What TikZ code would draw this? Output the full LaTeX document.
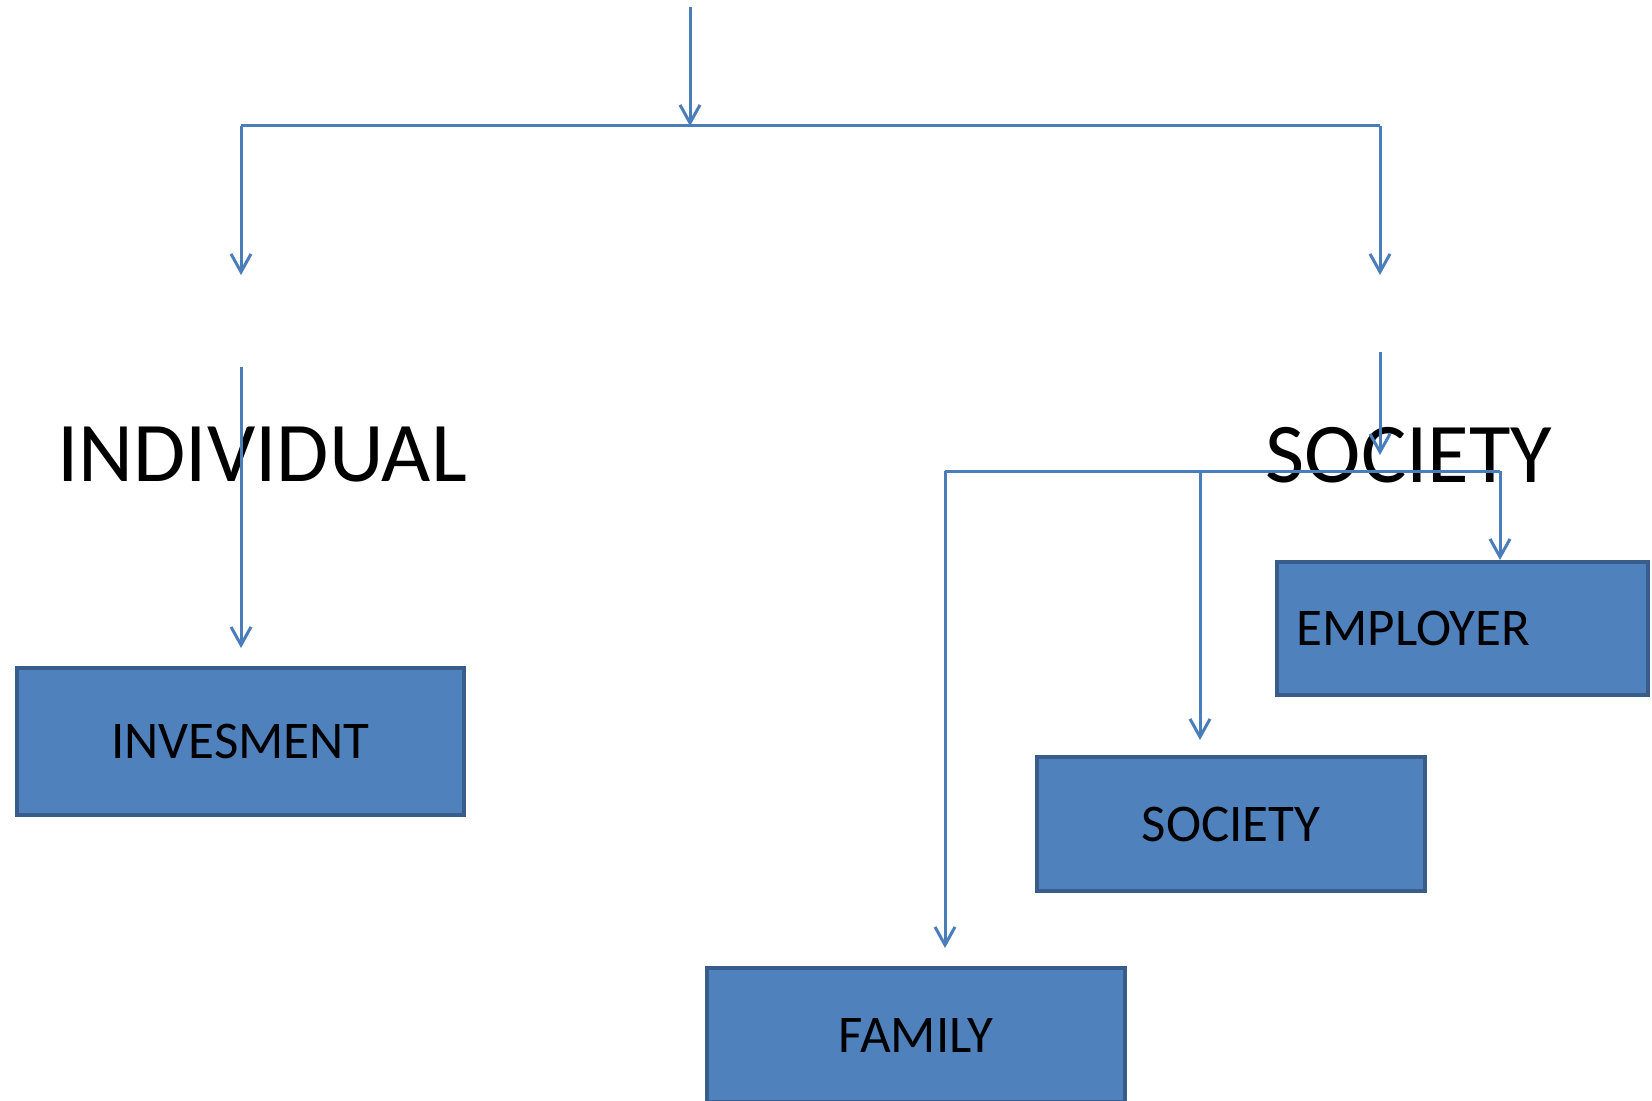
\documentclass[tikz,border=0pt]{standalone}
\usepackage{fontspec}
\setmainfont{Carlito}
\usetikzlibrary{positioning, arrows.meta}
\definecolor{boxfill}{HTML}{4F81BD}
\definecolor{boxline}{HTML}{385D8A}
\definecolor{linkline}{HTML}{4A7EBB}

\begin{document}
\begin{tikzpicture}[x=0.5pt, y=-0.5pt, >={Straight Barb[length=9pt,width=10pt]}]
    \tikzstyle{every node}=[font=\fontsize{26.5pt}{30pt}\selectfont]
    \tikzstyle{bigtext}=[font=\fontsize{42.5pt}{48pt}\selectfont, inner sep=0pt]
    \tikzstyle{boxnode}=[draw=boxline, fill=boxfill, line width=2pt, inner sep=0pt]
    \tikzstyle{link}=[draw=linkline, line width=1.5pt]
    \useasboundingbox (0,0) rectangle (1652,1101);

    \node (individual)  [bigtext] at (262,455)                                          {INDIVIDUAL};
    \node (society)     [bigtext] at (1409,455)                                         {SOCIETY};
    \node (invesment)   [boxnode, minimum width=223.5pt, minimum height=73.5pt] at (240.5,741.5) {INVESMENT};
    \node (employer)    [boxnode, minimum width=185.5pt, minimum height=66.5pt, text width=166pt, align=left, inner xsep=9.5pt] at (1462.5,628.5) {EMPLOYER};
    \node (society box) [boxnode, minimum width=194pt, minimum height=67pt] at (1231,824)  {SOCIETY};
    \node (family)      [boxnode, minimum width=209pt, minimum height=67pt] at (916,1035)  {FAMILY};

    \coordinate (top)   at (690,7);
    \coordinate (split) at (690,126);
    \coordinate (left)  at (241,126);
    \coordinate (right) at (1380,126);
    \coordinate (fork)  at (945,471);
    \coordinate (mid)   at (1200,471);
    \coordinate (end)   at (1500,471);

    \draw [link, ->] (top) -- (split);
    \draw [link] (left) -- (right);
    \draw [link, ->] (left) -- (241,275);
    \draw [link, ->] (right) -- (1380,275);
    \draw [link, ->] (241,367) -- (241,648);
    \draw [link, ->] (1380,352) -- (1380,455);
    \draw [link] (fork) -- (end);
    \draw [link, ->] (end) -- (end |- employer.north);
    \draw [link, ->] (mid) -- (1200,740);
    \draw [link, ->] (fork) -- (945,948);
\end{tikzpicture}
\end{document}
